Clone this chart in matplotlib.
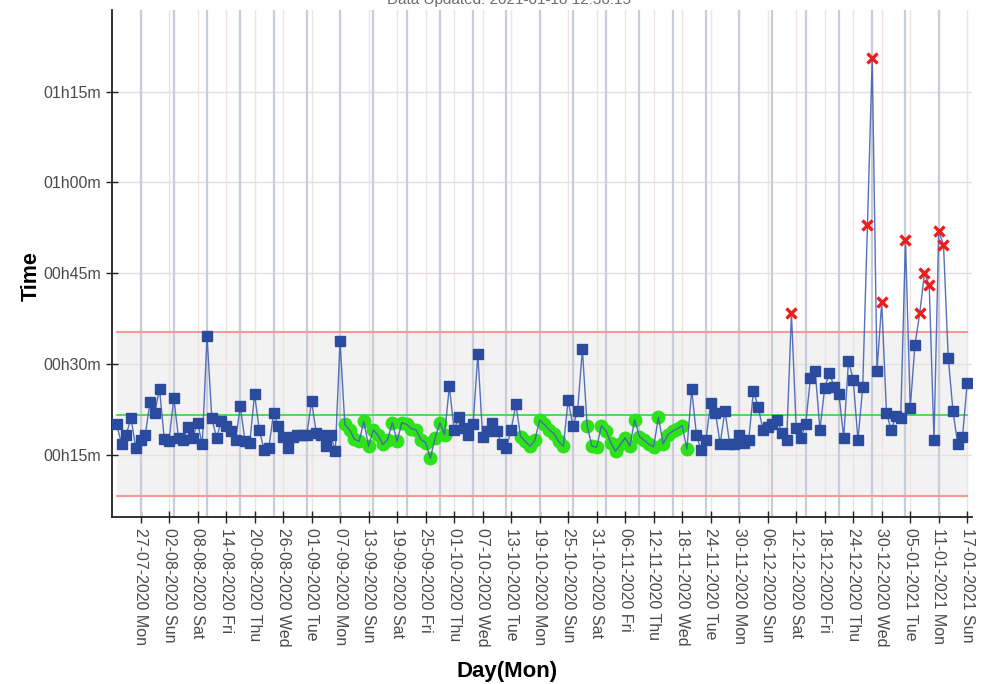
"""
plot daily run time with control limits
"""

import matplotlib
matplotlib.use('Agg')
import matplotlib.pyplot as plt
import matplotlib.ticker as mticker
import numpy as np
import pandas as pd

plt.rcParams['font.family'] = ['Liberation Sans', 'DejaVu Sans']

## daily data [minutes], one value per day from START_DAY
START_DAY = '2020-07-22'
MINUTES = [
    20.0, 16.8, 18.3, 21.1, 16.1, 17.5, 18.3, 23.7, 21.9, 25.9,
    17.6, 17.2, 24.4, 17.8, 17.5, 19.6, 17.8, 20.3, 16.7, 34.6,
    21.1, 17.8, 20.5, 19.7, 18.9, 17.5, 23.0, 17.2, 16.9, 25.0,
    19.1, 15.8, 16.1, 21.9, 19.8, 18.0, 16.1, 18.0, 18.2, 18.3,
    18.3, 23.8, 18.6, 18.3, 16.4, 18.3, 15.6, 33.8, 20.0, 19.1,
    17.6, 17.2, 20.5, 16.4, 19.1, 18.2, 16.7, 17.5, 20.3, 17.2,
    20.3, 20.0, 19.3, 19.1, 17.5, 17.0, 14.4, 17.8, 20.3, 18.3,
    26.3, 19.1, 21.2, 19.4, 18.3, 20.0, 31.6, 18.0, 18.9, 20.3,
    18.9, 16.7, 16.1, 19.1, 23.3, 18.0, 17.2, 16.4, 17.4, 20.7,
    20.0, 19.1, 18.5, 17.2, 16.4, 24.0, 19.7, 22.3, 32.4, 19.8,
    16.4, 16.2, 19.8, 18.9, 16.9, 15.6, 16.7, 17.8, 16.4, 20.8,
    18.0, 17.4, 16.7, 16.3, 21.2, 16.8, 18.3, 18.9, 19.3, 19.8,
    15.9, 25.8, 18.3, 15.7, 17.4, 23.6, 21.9, 16.8, 22.3, 16.8,
    16.7, 18.3, 17.0, 17.4, 25.5, 22.9, 19.1, 19.6, 20.1, 20.8,
    18.6, 17.5, 38.4, 19.4, 17.8, 20.1, 27.7, 28.8, 19.1, 26.1,
    28.5, 26.2, 25.0, 17.8, 30.5, 27.4, 17.4, 26.2, 53.0, 80.6,
    28.8, 40.2, 21.9, 19.1, 21.4, 21.1, 50.5, 22.7, 33.2, 38.4,
    45.0, 43.0, 17.4, 52.0, 49.7, 31.0, 22.2, 16.7, 18.0, 26.9,
]

CENTER_LINE = 21.5   # mean
UPPER_LIMIT = 35.2   # ucl
LOWER_LIMIT = 8.2    # lcl
RUN_LENGTH  = 8      # points in a row below mean

Y_TICKS   = [15, 30, 45, 60, 75]
TICK_FROM = '2020-07-27'
TITLE_STR = 'Data Updated: 2021-01-18 12:36:15'


def fmt_minutes(val, _pos=None):
    '''minutes -> 00h15m'''
    return '{:02d}h{:02d}m'.format(int(val // 60), int(round(val % 60)))


def plot_chart():
    '''
    control chart of daily time
    '''
    vals  = np.array(MINUTES)
    days  = pd.date_range(START_DAY, periods=len(vals), freq='D')
    one_d = pd.Timedelta(days=1)

    # flags : above ucl / long run below mean
    above = vals > UPPER_LIMIT
    below = vals < CENTER_LINE
    run   = np.zeros(len(vals), dtype=bool)
    start = None
    for k, flag in enumerate(list(below) + [False]):
        if flag and start is None:
            start = k
        elif not flag and start is not None:
            if k - start >= RUN_LENGTH:
                run[start:k] = True
            start = None
    normal = ~(above | run)

    fig = plt.figure(figsize=(10.07, 6.84), dpi=100)
    ax  = fig.add_axes([112/1007, 167/684, 860/1007, 507/684])

    # limits band
    span = [days[0], days[-1]]
    ax.fill_between(span, LOWER_LIMIT, UPPER_LIMIT, color='#f2f2f2', zorder=0)
    ax.plot(span, [UPPER_LIMIT]*2, color='#f59a9a', lw=1.5, zorder=2)
    ax.plot(span, [LOWER_LIMIT]*2, color='#f59a9a', lw=1.5, zorder=2)
    ax.plot(span, [CENTER_LINE]*2, color='#3ddc3d', lw=1.3, zorder=2)

    # weekly lines (mondays)
    for mon in pd.date_range(TICK_FROM, days[-1], freq='7D'):
        ax.axvline(mon, color='#c8cdd9', lw=1.6, zorder=1)

    # data
    ax.plot(days, vals, '-', color='#4262b2', lw=1.0, alpha=0.9, zorder=4)
    ax.plot(days[run], vals[run], 'o', color='#2ee21a', ms=9, zorder=3)
    ax.plot(days[normal], vals[normal], 's', color='#2b4c9e', ms=7.5, zorder=5)
    ax.plot(days[above], vals[above], 'x', color='#ee1c1c', ms=7.5, mew=2.4, zorder=6)

    # axes
    ticks = pd.date_range(TICK_FROM, days[-1], freq='6D')
    ax.set_xticks(ticks)
    ax.set_xticklabels([d.strftime('%d-%m-%Y %a') for d in ticks],
                       rotation=270, ha='center', va='top')
    ax.set_xlim(days[0] - one_d, days[-1] + one_d)

    ax.set_yticks(Y_TICKS)
    ax.yaxis.set_major_formatter(mticker.FuncFormatter(fmt_minutes))
    ax.set_ylim(4.7, 88.5)

    ax.grid(True, axis='x', color='#eee2e2', lw=1.0, zorder=1)
    ax.grid(True, axis='y', color='#e4e0e0', lw=1.0, zorder=1)
    ax.set_axisbelow(True)

    ax.tick_params(direction='inout', length=8, width=1, colors='#222222',
                   labelcolor='#4a4a4a', labelsize=11.5, pad=4)
    for side in ('top', 'right'):
        ax.spines[side].set_visible(False)
    for side in ('left', 'bottom'):
        ax.spines[side].set_linewidth(1.3)
        ax.spines[side].set_color('#222222')

    ax.set_ylabel('Time', fontsize=15.5, fontweight='bold')
    ax.yaxis.set_label_coords(-0.082, 0.475)
    ax.set_xlabel('Day(Mon)', fontsize=16, fontweight='bold')
    ax.xaxis.set_label_coords(0.459, -0.284)

    fig.text(509/1007, 1.0, TITLE_STR, ha='center', va='center',
             fontsize=11, color='#6b6b6b')

    fig.savefig('out.png', dpi=100)


if __name__ == '__main__':
    plot_chart()
